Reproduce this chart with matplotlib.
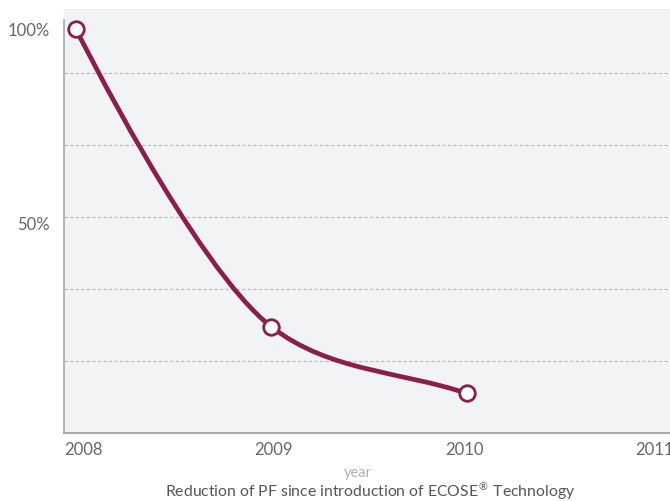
import numpy as np
import matplotlib
matplotlib.use('Agg')
import matplotlib.pyplot as plt
from matplotlib.path import Path
from matplotlib.patches import PathPatch

# data
years = [2008, 2009, 2010]
pf_share = [100.0, 23.6, 6.5]          # percent of 2008 level
year_labels = ['2008', '2009', '2010', '2011']
ytick_vals = [50, 100]
ytick_labels = ['50%', '100%']

LINE_COLOR = '#8a1f4b'
BG_COLOR = '#f2f3f5'
TEXT_COLOR = '#666666'

plt.rcParams['font.family'] = ['Lato', 'DejaVu Sans']

fig = plt.figure(figsize=(6.70, 5.01), dpi=100)
ax = fig.add_axes([64/670, (501-433)/501, (670-64)/670, 424/501])
ax.set_facecolor(BG_COLOR)

X_MIN, X_MAX = 2007.9386, 2011.041
Y_MIN, Y_MAX = -3.67, 105.2
GRID_STEP = 18.49
ax.set_xlim(X_MIN, X_MAX)
ax.set_ylim(Y_MIN, Y_MAX)


# centripetal catmull-rom, worked out in screen space so the curve bends like the original
def smooth_path(xs, ys, alpha=0.5):
    pts = ax.transData.transform(np.column_stack([xs, ys]))
    n = len(pts)
    verts = [pts[0]]
    codes = [Path.MOVETO]
    for i in range(n-1):
        p1, p2 = pts[i], pts[i+1]
        p0 = pts[i-1] if i > 0 else None
        p3 = pts[i+2] if i+2 < n else 2*p2 - p1
        l12 = np.hypot(*(p2-p1))**alpha
        if p0 is None:
            c1 = p1
        else:
            l01 = np.hypot(*(p1-p0))**alpha
            a = 2*l01**2 + 3*l01*l12 + l12**2
            c1 = (p1*a - p0*l12**2 + p2*l01**2) / (3*l01*(l01+l12))
        l23 = np.hypot(*(p3-p2))**alpha
        b = 2*l23**2 + 3*l23*l12 + l12**2
        c2 = (p2*b + p1*l23**2 - p3*l12**2) / (3*l23*(l23+l12))
        verts += [c1, c2, p2]
        codes += [Path.CURVE4]*3
    verts = ax.transData.inverted().transform(np.array(verts))
    return Path(verts, codes)


# grid
for g in np.arange(Y_MIN + GRID_STEP, Y_MAX - 5, GRID_STEP):
    ax.axhline(g, color='#b8b8b8', lw=0.8, linestyle=(0, (3, 2)), zorder=1)

ax.add_patch(PathPatch(smooth_path(years, pf_share), facecolor='none',
                       edgecolor=LINE_COLOR, lw=3.4, capstyle='round', zorder=3))
ax.plot(years, pf_share, linestyle='none', marker='o', ms=11.2, mew=2.0,
        mfc='white', mec=LINE_COLOR, zorder=4)

# axes styling
for s in ['top', 'right']:
    ax.spines[s].set_visible(False)
ax.spines['left'].set_color('#a8a8a8')
ax.spines['left'].set_linewidth(1.2)
ax.spines['left'].set_bounds(Y_MIN, 102.5)
ax.spines['bottom'].set_color('#a8a8a8')
ax.spines['bottom'].set_linewidth(1.4)

ax.set_xticks([])
ax.set_yticks(ytick_vals)
ax.set_yticklabels(ytick_labels, fontsize=12, color=TEXT_COLOR)
ax.tick_params(axis='y', length=0, pad=10)

# x labels, left aligned on even steps
LABEL_STEP = 190.5/606
for i, lab in enumerate(year_labels):
    ax.text(i*LABEL_STEP, -17/424, lab, transform=ax.transAxes, ha='left',
            va='center', fontsize=12, color=TEXT_COLOR, clip_on=False)

fig.text(358/670, 1 - 473.5/501, 'year', ha='center', va='center',
         fontsize=10.5, color='#b0b0b0')
fig.text(370/670, 4/501, 'Reduction of PF since introduction of ECOSE$^{\u00ae}$ Technology',
         ha='center', va='baseline', fontsize=11.3, color='#555555')

fig.savefig('out.png', dpi=100)
